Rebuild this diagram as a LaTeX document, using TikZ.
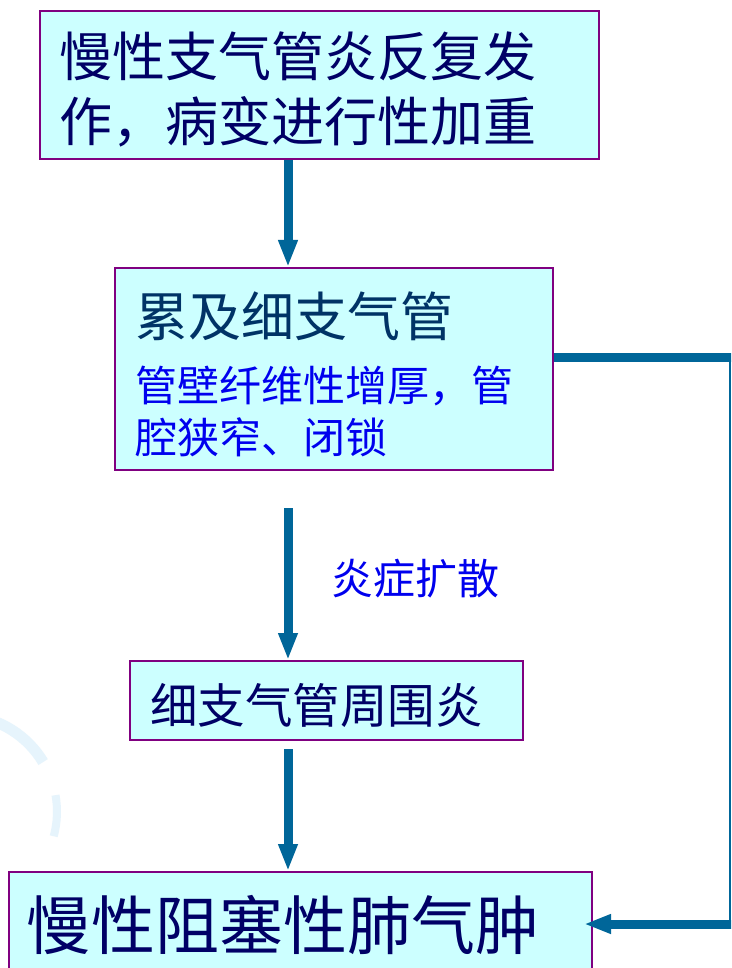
\documentclass[tikz,border=0pt]{standalone}
\usepackage{fontspec}
\setmainfont{Noto Sans CJK SC}
\usetikzlibrary{arrows.meta}
\definecolor{boxfill}{HTML}{CCFFFF}
\definecolor{boxline}{HTML}{800080}
\definecolor{arrcol}{HTML}{006699}
\definecolor{navytext}{HTML}{000066}
\definecolor{titletext}{HTML}{003366}
\definecolor{bluetext}{HTML}{0000EE}
\definecolor{decor}{HTML}{E6F4FC}
\tikzset{
  box/.style={draw=boxline, fill=boxfill, line width=2pt, anchor=north west, inner sep=0pt},
  txt/.style={anchor=base west, inner sep=0pt, outer sep=0pt},
  arr/.style={draw=arrcol, line width=9pt, -{Triangle[length=27pt, width=18pt]}},
  conn/.style={draw=arrcol, line width=9pt},
}
\begin{document}
\begin{tikzpicture}[x=1pt, y=-1pt]
\clip (0,0) rectangle (731,968);
\fill[white] (0,0) rectangle (731,968);
% decorative arcs
\coordinate (dc) at (-40,812);
\draw[decor, line width=11pt] (dc) ++(-85:97) arc[start angle=-85, end angle=-31, radius=97];
\draw[decor, line width=8pt] (dc) ++(-10:97) arc[start angle=-10, end angle=15, radius=95];
% boxes
\node[box, minimum width=559pt, minimum height=148pt] (b1) at (39,10) {};
\node[box, minimum width=438pt, minimum height=202pt] (b2) at (114,267) {};
\node[box, minimum width=393pt, minimum height=79pt] (b3) at (129,660) {};
\node[box, minimum width=583pt, minimum height=120pt] (b4) at (8,871) {};
% texts
\node[txt, text=navytext, font=\fontsize{53}{65}\selectfont] (t1a) at (59,77) {慢性支气管炎反复发};
\node[txt, text=navytext, font=\fontsize{53}{65}\selectfont] (t1b) at (59,142) {作，病变进行性加重};
\node[txt, text=titletext, font=\fontsize{53}{65}\selectfont] (t2) at (135,336) {累及细支气管};
\node[txt, text=bluetext, font=\fontsize{42}{52}\selectfont] (t2a) at (135,401) {管壁纤维性增厚，管};
\node[txt, text=bluetext, font=\fontsize{42}{52}\selectfont] (t2b) at (135,453) {腔狭窄、闭锁};
\node[txt, text=bluetext, font=\fontsize{42}{52}\selectfont] (lab) at (331,594) {炎症扩散};
\node[txt, text=navytext, font=\fontsize{47.5}{58}\selectfont] (t3) at (150,723) {细支气管周围炎};
\node[txt, text=navytext, font=\fontsize{64}{76}\selectfont] (t4) at (27,949) {慢性阻塞性肺气肿};
% connectors
\coordinate (a1s) at (288,158);
\coordinate (a2s) at (288,508);
\coordinate (a3s) at (288,749);
\draw[arr] (a1s |- b1.south) -- (a1s |- b2.north);
\draw[arr] (a2s) -- (a2s |- b3.north);
\draw[arr] (a3s) -- (a3s |- b4.north);
\coordinate (r1) at (735,357);
\coordinate (r2) at (735,924);
\draw[conn] (b2.east |- r1) -- (r1);
\draw[draw=arrcol, line width=2pt] (730,357) -- (730,924);
\draw[arr, shorten >=-9pt] (r2) -- (b4.east |- r2);
\end{tikzpicture}
\end{document}
